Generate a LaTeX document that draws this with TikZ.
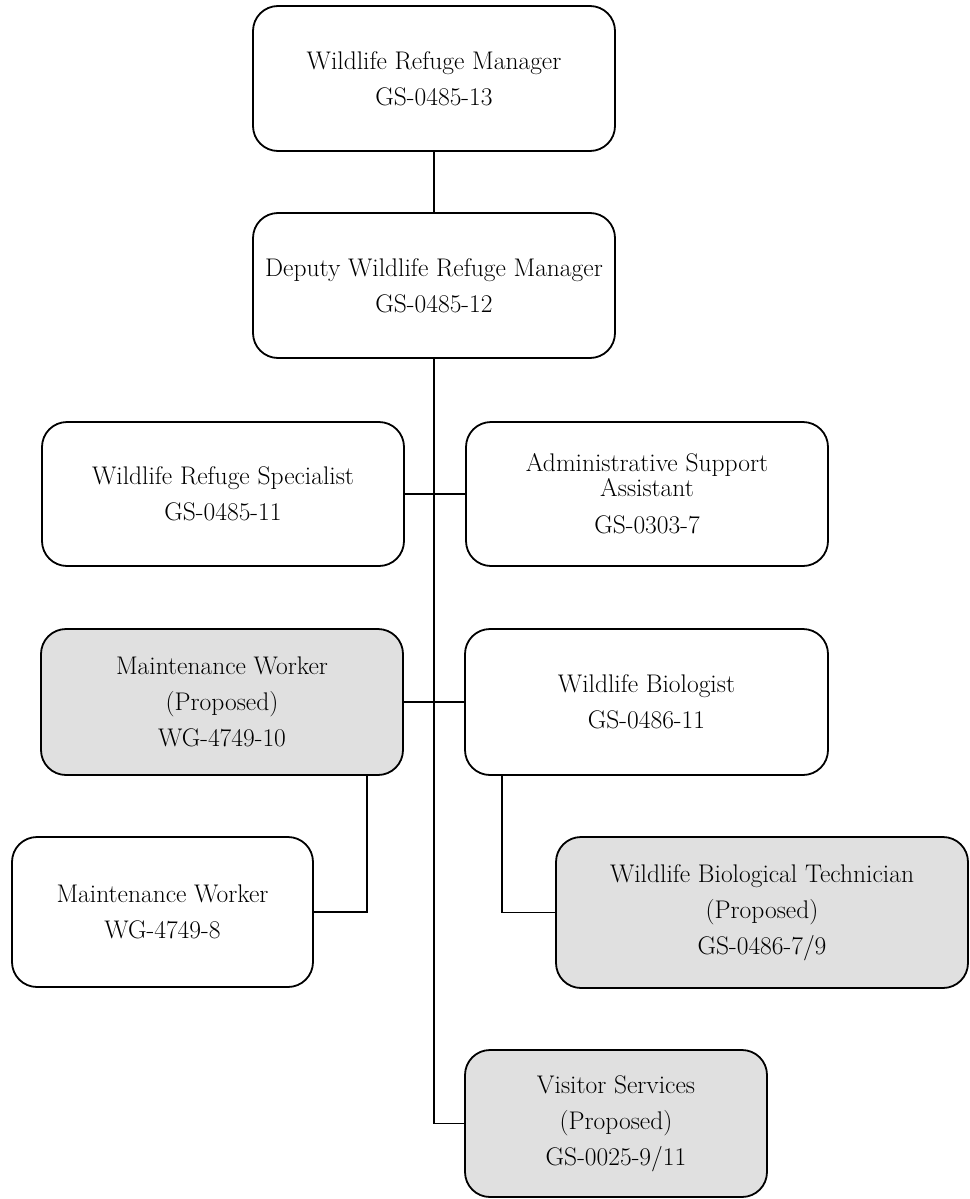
\documentclass[tikz,border=0pt]{standalone}
\usepackage{fontspec}
\definecolor{boxgray}{RGB}{224,224,224}
\begin{document}
\begin{tikzpicture}[x=1pt,y=-1pt,
  box/.style={draw=black,line width=1.8pt,rounded corners=25pt,inner sep=0pt,outer sep=0pt,
    align=center,font=\fontsize{25.5}{36}\selectfont,minimum height=145pt},
  propbox/.style={box,fill=boxgray},
  conn/.style={draw=black,line width=1.8pt}]
\useasboundingbox (0,0) rectangle (969,1199);
\node[box,minimum width=362pt] (mgr) at (434,78.5) {Wildlife Refuge Manager\\GS-0485-13};
\node[box,minimum width=362pt] (dep) at (434,285.5) {Deputy Wildlife Refuge Manager\\GS-0485-12};
\node[box,minimum width=362pt,minimum height=144pt] (spec) at (223,494) {Wildlife Refuge Specialist\\GS-0485-11};
\node[box,minimum width=362pt,minimum height=144pt] (adm) at (647,494) {Administrative Support\\[-11pt]Assistant\\[1pt]GS-0303-7};
\node[propbox,minimum width=362pt,minimum height=146pt] (mw) at (222,702) {Maintenance Worker\\(Proposed)\\WG-4749-10};
\node[box,minimum width=363pt,minimum height=146pt] (bio) at (646.5,702) {Wildlife Biologist\\GS-0486-11};
\node[box,minimum width=301pt,minimum height=150pt] (mw2) at (162.5,912) {Maintenance Worker\\WG-4749-8};
\node[propbox,minimum width=412pt,minimum height=151pt] (tech) at (762,912.5) {Wildlife Biological Technician\\(Proposed)\\GS-0486-7/9};
\node[propbox,minimum width=302pt,minimum height=147pt] (vis) at (616,1123.5) {Visitor Services\\(Proposed)\\GS-0025-9/11};
\coordinate (mwdrop) at ([xshift=-36pt]mw.south east);
\coordinate (biodrop) at ([xshift=37pt]bio.south west);
\draw[conn] (mgr.south) -- (dep.north);
\draw[conn] (dep.south) |- (vis.west);
\draw[conn] (spec.east) -- (adm.west);
\draw[conn] (mw.east) -- (bio.west);
\draw[conn] (mwdrop) |- (mw2.east);
\draw[conn] (biodrop) |- (tech.west);
\end{tikzpicture}
\end{document}
